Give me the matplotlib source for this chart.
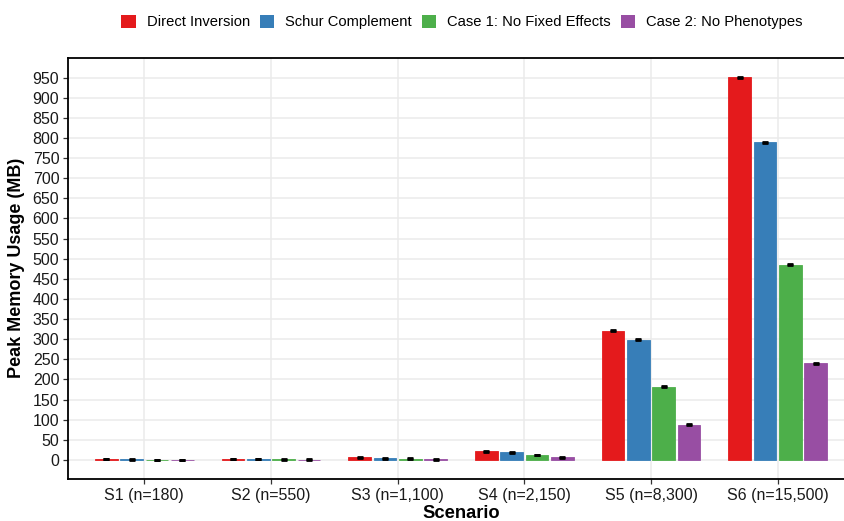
import numpy as np
import matplotlib
matplotlib.use("Agg")
from matplotlib import pyplot as plt
from matplotlib.patches import Patch

plt.rcParams['font.family'] = ['Liberation Sans', 'DejaVu Sans']

# data
scenarios = ['S1 (n=180)', 'S2 (n=550)', 'S3 (n=1,100)', 'S4 (n=2,150)',
             'S5 (n=8,300)', 'S6 (n=15,500)']
methods = ['Direct Inversion', 'Schur Complement', 'Case 1: No Fixed Effects',
           'Case 2: No Phenotypes']
direct = [1.2, 2.0, 6.4, 21.5, 321, 951]
schur = [1.1, 1.6, 4.0, 18.5, 299, 790]
case1 = [0.6, 1.0, 3.0, 12.0, 182, 485]
case2 = [0.5, 0.7, 1.0, 6.5, 87.5, 240]
direct_err = [0.3, 0.4, 0.8, 1.0, 1.5, 1.5]
schur_err = [0.3, 0.4, 0.7, 1.0, 1.2, 1.2]
case1_err = [0.2, 0.3, 0.5, 0.8, 1.0, 1.2]
case2_err = [0.2, 0.3, 0.4, 0.7, 1.0, 1.2]

colors = ['#E41A1C', '#377EB8', '#4DAF4A', '#984EA3']
series = [direct, schur, case1, case2]
errors = [direct_err, schur_err, case1_err, case2_err]

W, H = 845, 521
fig = plt.figure(figsize=(W / 100, H / 100), dpi=100)
ax = fig.add_axes([68.3 / W, (H - 479) / H, (853.7 - 68.3) / W, (479 - 57.7) / H])

x = np.arange(1, len(scenarios) + 1)
offsets = [-0.3, -0.1, 0.1, 0.3]
for vals, errs, col, off in zip(series, errors, colors, offsets):
    ax.bar(x + off, vals, width=0.18, color=col, edgecolor=col, linewidth=0.6, zorder=3)
    ax.errorbar(x + off, vals, yerr=errs, fmt='none', ecolor='black',
                elinewidth=1.2, capsize=2.3, capthick=2.0, zorder=4)

ax.set_xlim(0.4, 6.6)
ax.set_ylim(-47.6, 999.6)
ax.set_xticks(x)
ax.set_xticklabels(scenarios)
ax.set_yticks(np.arange(0, 951, 50))

ax.grid(True, color='#EBEBEB', linewidth=1.1, zorder=0)
ax.set_axisbelow(True)
for side in ['left', 'bottom', 'top']:
    ax.spines[side].set_linewidth(1.3)
    ax.spines[side].set_color('black')
ax.spines['right'].set_visible(False)
ax.tick_params(axis='both', length=3.5, width=0.9, color='#333333',
               labelsize=11.5, labelcolor='#1a1a1a', pad=3)

ax.set_xlabel('Scenario', fontsize=13.2, fontweight='bold')
ax.set_ylabel('Peak Memory Usage (MB)', fontsize=13.0, fontweight='bold')
ax.xaxis.set_label_coords(0.5, -0.062)
ax.yaxis.set_label_coords(-0.055, 0.5)

handles = [Patch(facecolor=c, edgecolor='none') for c in colors]
fig.legend(handles, methods, loc='center', bbox_to_anchor=(462 / W, 1 - 22 / H),
           ncol=4, frameon=False, fontsize=10.6, handlelength=1.0,
           handleheight=1.0, handletextpad=0.75, columnspacing=0.65,
           borderpad=0)

fig.savefig('out.png', dpi=100)
